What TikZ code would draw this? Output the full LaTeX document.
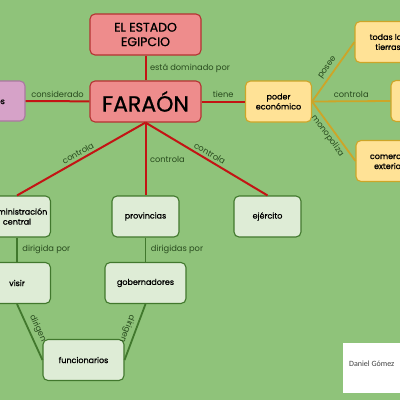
\documentclass[tikz,border=0pt]{standalone}
\usepackage{fontspec}
\setmainfont{Poppins}
\newfontfamily\cajafont[FakeBold=0.9]{Poppins}
\newfontfamily\autorfont{Carlito}
\definecolor{fondo}{RGB}{143,195,122}
\definecolor{rosa}{RGB}{238,140,140}
\definecolor{granate}{RGB}{180,50,50}
\definecolor{lila}{RGB}{214,162,200}
\definecolor{lilaborde}{RGB}{170,120,160}
\definecolor{crema}{RGB}{255,226,150}
\definecolor{oro}{RGB}{205,165,40}
\definecolor{verdeclaro}{RGB}{222,236,214}
\definecolor{verdeosc}{RGB}{65,120,45}
\definecolor{rojolinea}{RGB}{195,20,20}
\definecolor{textolbl}{RGB}{40,75,30}
\begin{document}
\begin{tikzpicture}[x=1pt, y=-1pt,
  caja/.style={rounded corners=5pt, line width=1.1pt, align=center, inner sep=2pt},
  rojo/.style={caja, fill=rosa, draw=granate, minimum width=111pt, minimum height=41pt},
  morado/.style={caja, fill=lila, draw=lilaborde, minimum width=57pt, minimum height=40pt, font=\cajafont\fontsize{8}{10}\selectfont},
  amarillo/.style={caja, fill=crema, draw=oro, minimum width=66pt, minimum height=41pt, font=\cajafont\fontsize{8}{10}\selectfont},
  verde/.style={caja, fill=verdeclaro, draw=verdeosc, minimum width=67pt, minimum height=41pt, font=\cajafont\fontsize{8}{10}\selectfont},
  lbl/.style={font=\fontsize{8.3}{10}\selectfont, text=textolbl, inner sep=2.5pt},
  lrojo/.style={draw=rojolinea, line width=2pt},
  loro/.style={draw=oro, line width=1.8pt},
  lverde/.style={draw=verdeosc, line width=1.8pt}
]
\fill[fondo] (0,0) rectangle (400,400);
\useasboundingbox (0,0) rectangle (400,400);

% nodos principales
\node[rojo, font=\cajafont\fontsize{12.5}{14.5}\selectfont] (estado) at (145.5,34.5) {EL ESTADO\\EGIPCIO};
\node[rojo, font=\cajafont\fontsize{22}{24}\selectfont] (farao) at (145.5,101.5) {FARAÓN};
\node[morado] (dios) at (-3.5,101) {dios};

% poder economico
\node[amarillo] (poder) at (278.5,101.5) {poder\\económico};
\node[amarillo] (tierras) at (388,42) {todas las\\tierras};
\node[amarillo] (templos) at (424,101) {};
\node[amarillo] (comercio) at (389,161) {comercio\\exterior};

% organizacion
\node[verde] (adminc) at (17,216.5) {administración\\central};
\node[verde] (provincias) at (145.5,216.5) {provincias};
\node[verde] (ejercito) at (267.5,216.5) {ejército};
\node[verde] (visir) at (17,283) {visir};
\node[verde, minimum width=81pt] (gobernadores) at (145.5,283) {gobernadores};
\node[verde, minimum width=81pt] (funcionarios) at (83.5,360) {funcionarios};

% autor
\fill[white] (343,343) rectangle (410,393);
\node[anchor=west, inner sep=0pt, font=\autorfont\fontsize{8}{9}\selectfont, text=black!75] (autor) at (349,364) {Daniel Gómez};

% conectores
\draw[lrojo] (estado) -- (farao) node[lbl, midway, right, xshift=1pt] {está dominado por};
\draw[lrojo] (dios) -- (farao) node[lbl, midway, above] {considerado};
\draw[lrojo] (farao) -- (poder) node[lbl, midway, above] {tiene};
\draw[lrojo] (adminc.north) -- (farao.south) node[lbl, midway, sloped, above] {controla};
\draw[lrojo] (farao.south) -- (provincias.north) node[lbl, midway, right, xshift=1pt] {controla};
\draw[lrojo] (farao.south) -- (ejercito.north) node[lbl, midway, sloped, above] {controla};

\draw[loro] (poder.east) -- (tierras.west) node[lbl, midway, sloped, above] {posee};
\draw[loro] (poder.east) -- (templos.west) node[lbl, midway, above] {controla};
\draw[loro] (poder.east) -- (comercio.west) node[lbl, midway, sloped, below] {monopoliza};

\draw[lverde] (adminc) -- (visir) node[lbl, midway, right, xshift=2pt] {dirigida por};
\draw[lverde] (provincias) -- (gobernadores) node[lbl, midway, right, xshift=2pt] {dirigidas por};
\draw[lverde] (visir.south) -- (funcionarios.west) node[lbl, midway, sloped, above, inner sep=3.5pt] {dirigen};
\draw[lverde] (gobernadores.south) -- (funcionarios.east) node[lbl, midway, sloped, allow upside down, below, inner sep=3.5pt] {dirigen};
\end{tikzpicture}
\end{document}
